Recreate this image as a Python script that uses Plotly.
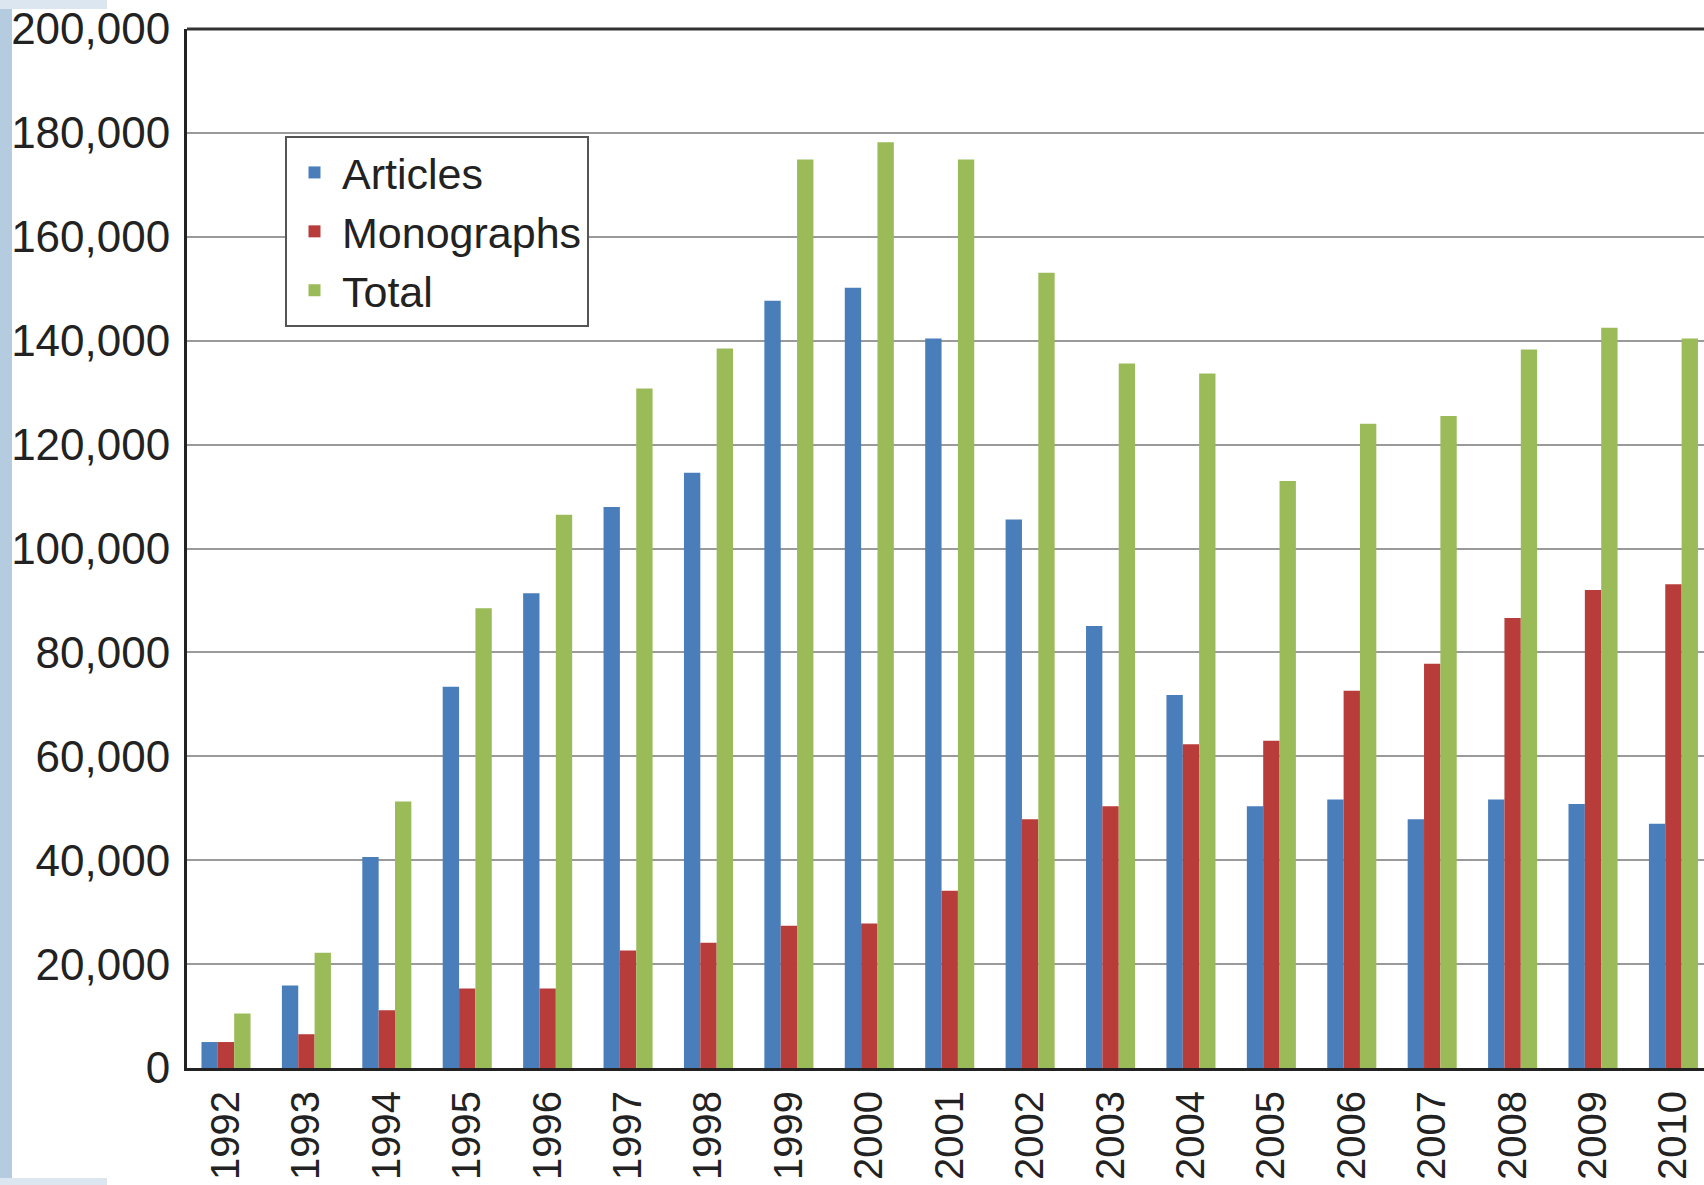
import plotly.graph_objects as go

years = [str(y) for y in range(1992, 2011)]
articles = [5000, 15900, 40600, 73400, 91400, 108000, 114600, 147700, 150200, 140400,
            105600, 85100, 71800, 50400, 51700, 47900, 51700, 50800, 47000]
monographs = [5000, 6500, 11100, 15300, 15300, 22600, 24100, 27400, 27800, 34100,
              47900, 50400, 62300, 63000, 72600, 77800, 86600, 92000, 93100]
total = [10500, 22200, 51300, 88500, 106500, 130800, 138500, 174900, 178200, 174900,
         153100, 135600, 133700, 113000, 124000, 125500, 138300, 142500, 140400]

series = [("Articles", articles, "#4a7ebb"),
          ("Monographs", monographs, "#b83c3a"),
          ("Total", total, "#9bbb59")]

fig = go.Figure()
for name, vals, col in series:
    fig.add_trace(go.Bar(x=years, y=vals, name=name, marker=dict(color=col, line=dict(width=0))))

W, H = 1704, 1185
L, T, B = 187, 29, 117
PW, PH = W - L, H - T - B
fig.update_layout(
    width=W, height=H,
    margin=dict(l=L, r=0, t=T, b=B),
    paper_bgcolor="white", plot_bgcolor="white",
    barmode="group", bargap=0.39, bargroupgap=0,
    font=dict(family="Liberation Sans, Arial, sans-serif", color="#222"),
    showlegend=True,
    legend=dict(x=98 / PW, y=(1068 - 136) / PH, xanchor="left", yanchor="top",
                bgcolor="white", bordercolor="#555", borderwidth=2,
                font=dict(size=43, color="#222"), traceorder="normal",
                itemwidth=45, tracegroupgap=0),
    xaxis=dict(type="category", range=[-0.485, 18.38], tickangle=-90,
               tickfont=dict(size=40, color="#222"), showgrid=False,
               showline=True, linecolor="#222", linewidth=3, ticks="",
               ticklabelstandoff=4),
    yaxis=dict(range=[0, 200000], tickvals=list(range(0, 200001, 20000)),
               tickformat=",d", tickfont=dict(size=44, color="#222"),
               showgrid=True, gridcolor="#9a9a9a", gridwidth=2,
               showline=True, linecolor="#222", linewidth=3, ticks="",
               ticklabelstandoff=5, zeroline=False),
    shapes=[
        dict(type="line", xref="paper", yref="paper", x0=0, x1=1, y0=1, y1=1,
             line=dict(color="#333", width=3)),
        dict(type="rect", xref="paper", yref="paper", x0=-L / PW, x1=-(L - 12) / PW,
             y0=-B / PH, y1=1 + T / PH, fillcolor="#b4cbe0", line=dict(width=0), layer="below"),
        dict(type="rect", xref="paper", yref="paper", x0=-L / PW, x1=-80 / PW,
             y0=1 + 20 / PH, y1=1 + T / PH, fillcolor="#dbe6f0", line=dict(width=0), layer="below"),
        dict(type="rect", xref="paper", yref="paper", x0=-L / PW, x1=-80 / PW,
             y0=-B / PH, y1=-(B - 7) / PH, fillcolor="#dbe6f0", line=dict(width=0), layer="below"),
    ],
)

fig.write_html("out.html", config={"displayModeBar": False},
               post_script="document.body.style.margin='0';document.body.style.overflow='hidden';")
